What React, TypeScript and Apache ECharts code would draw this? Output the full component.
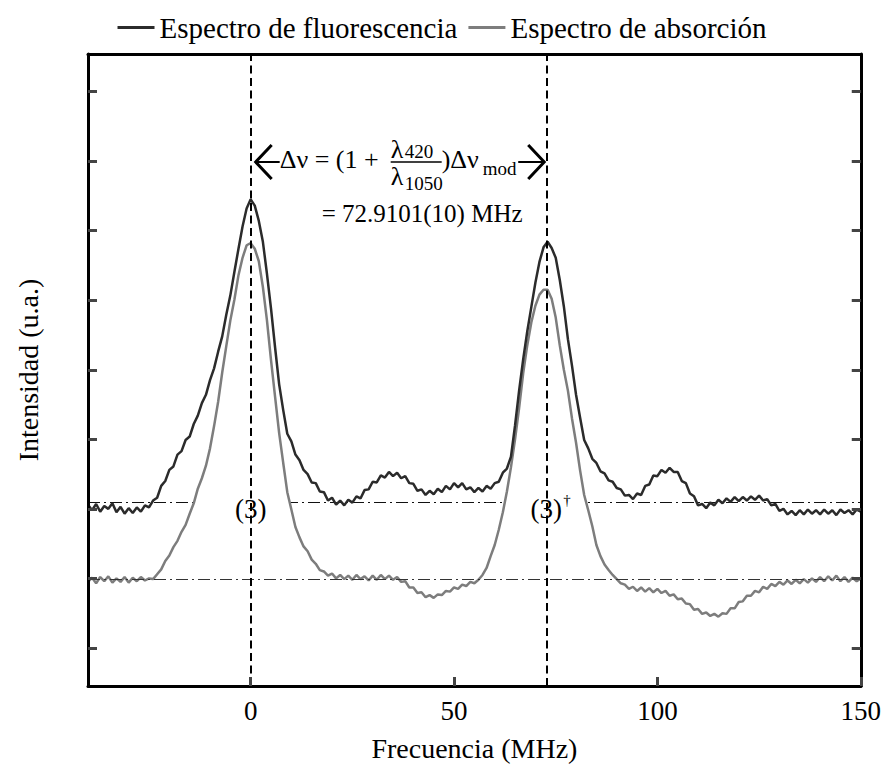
import React, { useEffect, useRef } from "react";
import * as echarts from "echarts";

// Frequency grid (MHz)
const freqMHz = [
  -40, -39, -38, -37, -36, -35, -34, -33, -32, -31,
  -30, -29, -28, -27, -26, -25, -24, -23, -22, -21,
  -20, -19, -18, -17, -16, -15, -14, -13, -12, -11,
  -10, -9, -8, -7, -6, -5, -4, -3, -2, -1,
  0, 1, 2, 3, 4, 5, 6, 7, 8, 9,
  10, 11, 12, 13, 14, 15, 16, 17, 18, 19,
  20, 21, 22, 23, 24, 25, 26, 27, 28, 29,
  30, 31, 32, 33, 34, 35, 36, 37, 38, 39,
  40, 41, 42, 43, 44, 45, 46, 47, 48, 49,
  50, 51, 52, 53, 54, 55, 56, 57, 58, 59,
  60, 61, 62, 63, 64, 65, 66, 67, 68, 69,
  70, 71, 72, 73, 74, 75, 76, 77, 78, 79,
  80, 81, 82, 83, 84, 85, 86, 87, 88, 89,
  90, 91, 92, 93, 94, 95, 96, 97, 98, 99,
  100, 101, 102, 103, 104, 105, 106, 107, 108, 109,
  110, 111, 112, 113, 114, 115, 116, 117, 118, 119,
  120, 121, 122, 123, 124, 125, 126, 127, 128, 129,
  130, 131, 132, 133, 134, 135, 136, 137, 138, 139,
  140, 141, 142, 143, 144, 145, 146, 147, 148, 149,
  150,
];

// Espectro de fluorescencia (u.a.)
const fluorescencia = [
  3.06, 2.98, 3.07, 2.96, 3.04, 3.0, 3.08, 2.95, 3.03, 2.93,
  3.01, 2.94, 3.02, 2.96, 3.05, 3.02, 3.12, 3.16, 3.33, 3.4,
  3.56, 3.61, 3.78, 3.83, 3.99, 4.04, 4.22, 4.34, 4.52, 4.64,
  4.85, 5.02, 5.26, 5.48, 5.79, 6.07, 6.41, 6.74, 7.06, 7.32,
  7.45, 7.36, 7.14, 6.84, 6.38, 5.88, 5.32, 4.79, 4.42, 4.08,
  3.97, 3.78, 3.7, 3.56, 3.5, 3.38, 3.37, 3.25, 3.24, 3.12,
  3.16, 3.06, 3.12, 3.05, 3.13, 3.09, 3.18, 3.15, 3.27, 3.28,
  3.39, 3.38, 3.48, 3.45, 3.53, 3.47, 3.52, 3.44, 3.47, 3.37,
  3.36, 3.26, 3.28, 3.2, 3.26, 3.21, 3.29, 3.24, 3.33, 3.28,
  3.37, 3.31, 3.37, 3.28, 3.31, 3.24, 3.3, 3.25, 3.33, 3.29,
  3.37, 3.39, 3.52, 3.58, 3.75, 4.2, 4.7, 5.15, 5.55, 5.9,
  6.25, 6.55, 6.76, 6.84, 6.75, 6.61, 6.29, 5.91, 5.44, 5.06,
  4.64, 4.31, 3.99, 3.87, 3.72, 3.66, 3.54, 3.51, 3.41, 3.39,
  3.3, 3.28, 3.19, 3.2, 3.14, 3.22, 3.2, 3.33, 3.35, 3.48,
  3.47, 3.56, 3.52, 3.59, 3.53, 3.53, 3.4, 3.37, 3.22, 3.18,
  3.05, 3.07, 3.01, 3.09, 3.05, 3.13, 3.08, 3.15, 3.1, 3.17,
  3.11, 3.17, 3.12, 3.18, 3.13, 3.19, 3.12, 3.14, 3.05, 3.07,
  2.97, 3.0, 2.92, 2.97, 2.91, 2.98, 2.92, 2.99, 2.93, 2.98,
  2.92, 2.99, 2.93, 2.98, 2.91, 2.99, 2.94, 2.98, 2.92, 2.99,
  2.96,
];

// Espectro de absorción (u.a.)
const absorcion = [
  1.95, 2.01, 1.93, 2.02, 1.96, 2.03, 1.94, 2.0, 1.95, 2.02,
  1.94, 2.01, 1.96, 2.02, 1.97, 2.0, 1.99, 2.06, 2.13, 2.25,
  2.33, 2.45, 2.54, 2.67, 2.77, 2.93, 3.08, 3.29, 3.44, 3.62,
  3.87, 4.19, 4.54, 4.96, 5.34, 5.71, 6.01, 6.36, 6.61, 6.79,
  6.82, 6.74, 6.56, 6.19, 5.71, 5.14, 4.61, 4.09, 3.66, 3.24,
  2.99, 2.74, 2.59, 2.46, 2.39, 2.27, 2.21, 2.12, 2.1, 2.04,
  2.07, 2.0, 2.05, 1.99, 2.04, 1.98, 2.05, 1.99, 2.03, 1.97,
  2.04, 1.98, 2.05, 1.99, 2.04, 1.98, 2.02, 1.95, 1.96, 1.87,
  1.87, 1.79, 1.8, 1.73, 1.76, 1.72, 1.77, 1.76, 1.82, 1.81,
  1.87, 1.85, 1.91, 1.89, 1.95, 1.93, 1.98, 2.05, 2.15, 2.32,
  2.48, 2.7, 2.95, 3.25, 3.6, 4.0, 4.45, 4.95, 5.35, 5.68,
  5.92, 6.08, 6.15, 6.15, 6.02, 5.75, 5.35, 5.0, 4.7, 4.3,
  3.95, 3.55, 3.2, 2.98, 2.75, 2.48, 2.32, 2.2, 2.12, 2.05,
  1.99, 1.93, 1.91, 1.85, 1.88, 1.82, 1.87, 1.81, 1.86, 1.8,
  1.85, 1.79, 1.82, 1.75, 1.77, 1.7, 1.71, 1.64, 1.63, 1.55,
  1.56, 1.49, 1.51, 1.46, 1.49, 1.45, 1.5, 1.49, 1.57, 1.57,
  1.66, 1.67, 1.75, 1.75, 1.82, 1.8, 1.88, 1.85, 1.92, 1.89,
  1.95, 1.91, 1.97, 1.92, 1.98, 1.93, 1.99, 1.94, 2.0, 1.95,
  2.02, 1.96, 2.03, 1.97, 2.04, 1.96, 2.02, 1.95, 2.01, 1.96,
  2.0,
];

const xTickValues = [0, 50, 100, 150];
const yTickValues = [1, 2, 3, 4, 5, 6, 7, 8, 9];
const peakPositions = [0, 72.9101];
const baselineFluorescencia = 3.105;
const baselineAbsorcion = 1.99;
const seriesNames = ["Espectro de fluorescencia", "Espectro de absorción"];

const FONT = "'Liberation Serif', 'Times New Roman', serif";
const BLACK_LINE = "#2b2b2b";
const GRAY_LINE = "#7d7d7d";
const X_MIN = -40;
const X_MAX = 150;
const Y_MIN = 0.453;
const Y_MAX = 9.54;

export default function App() {
  const ref = useRef<HTMLDivElement>(null);

  useEffect(() => {
    if (!ref.current) return;
    const chart = echarts.init(ref.current, null, { renderer: "svg" });

    const fluorData = freqMHz.map((f, i) => [f, fluorescencia[i]]);
    const absData = freqMHz.map((f, i) => [f, absorcion[i]]);

    const tickStyle = { color: "#444", width: 3 };
    const borderLine = { show: true, onZero: false, lineStyle: { color: "#000", width: 3 } };

    const option: any = {
      animation: false,
      grid: { left: 88, right: 19, top: 54, bottom: 83, containLabel: false },
      legend: {
        top: 8,
        left: "center",
        icon: "rect",
        itemWidth: 37,
        itemHeight: 3,
        itemGap: 11,
        selectedMode: false,
        textStyle: { fontSize: 29, fontFamily: FONT, color: "#000" },
        data: [
          { name: seriesNames[0], itemStyle: { color: BLACK_LINE } },
          { name: seriesNames[1], itemStyle: { color: GRAY_LINE } },
        ],
      },
      xAxis: [
        {
          type: "value",
          min: X_MIN,
          max: X_MAX,
          position: "bottom",
          z: 10,
          axisLine: borderLine,
          splitLine: { show: false },
          axisTick: { show: true, inside: true, length: 9, lineStyle: tickStyle, customValues: xTickValues },
          axisLabel: {
            show: true,
            customValues: xTickValues,
            fontSize: 27,
            fontFamily: FONT,
            color: "#000",
            margin: 11,
          },
          name: "Frecuencia (MHz)",
          nameLocation: "middle",
          nameGap: 48,
          nameTextStyle: { fontSize: 28, fontFamily: FONT, color: "#000" },
        },
        {
          type: "value",
          min: X_MIN,
          max: X_MAX,
          position: "top",
          z: 10,
          axisLine: borderLine,
          splitLine: { show: false },
          axisTick: { show: false },
          axisLabel: { show: false },
        },
      ],
      yAxis: [
        {
          type: "value",
          min: Y_MIN,
          max: Y_MAX,
          position: "left",
          z: 10,
          axisLine: borderLine,
          splitLine: { show: false },
          axisTick: { show: true, inside: true, length: 9, lineStyle: tickStyle, customValues: yTickValues },
          axisLabel: { show: false },
          name: "Intensidad (u.a.)",
          nameLocation: "middle",
          nameGap: 46,
          nameRotate: 90,
          nameTextStyle: { fontSize: 28, fontFamily: FONT, color: "#000" },
        },
        {
          type: "value",
          min: Y_MIN,
          max: Y_MAX,
          position: "right",
          z: 10,
          axisLine: borderLine,
          splitLine: { show: false },
          axisTick: { show: true, inside: true, length: 9, lineStyle: tickStyle, customValues: yTickValues },
          axisLabel: { show: false },
        },
      ],
      series: [
        {
          name: seriesNames[1],
          type: "line",
          data: absData,
          xAxisIndex: 0,
          yAxisIndex: 0,
          z: 2,
          color: GRAY_LINE,
          symbol: "none",
          showSymbol: false,
          lineStyle: { color: GRAY_LINE, width: 2.5 },
          areaStyle: { color: "#ffffff", opacity: 1, origin: "start" },
          markLine: {
            z: 1,
            silent: true,
            symbol: ["none", "none"],
            label: { show: false },
            data: [
              {
                yAxis: baselineFluorescencia,
                lineStyle: { color: "#111", width: 1, type: [12, 4, 2, 4] },
              },
            ],
          },
        },
        {
          name: seriesNames[0],
          type: "line",
          data: fluorData,
          xAxisIndex: 0,
          yAxisIndex: 0,
          z: 4,
          color: BLACK_LINE,
          symbol: "none",
          showSymbol: false,
          lineStyle: { color: BLACK_LINE, width: 2.5 },
          markLine: {
            z: 5,
            silent: true,
            symbol: ["none", "none"],
            label: { show: false },
            data: [
              {
                yAxis: baselineAbsorcion,
                lineStyle: { color: "#333", width: 1, type: [12, 4, 2, 4] },
              },
              ...peakPositions.map((p) => ({
                xAxis: p,
                lineStyle: { color: "#000", width: 2, type: [8, 4.5] },
              })),
            ],
          },
        },
      ],
    };

    chart.setOption(option);

    const p0 = chart.convertToPixel({ xAxisIndex: 0 }, peakPositions[0]) as number;
    const p1 = chart.convertToPixel({ xAxisIndex: 0 }, peakPositions[1]) as number;

    const txt = (text: string, x: number, y: number, size: number, align = "left") => ({
      type: "text",
      x,
      y,
      z: 20,
      silent: true,
      style: { text, fontSize: size, fontFamily: FONT, fill: "#000", align, verticalAlign: "middle" },
    });

    const arrowY = 162;
    const graphic = [
      {
        type: "polyline",
        z: 20,
        silent: true,
        shape: { points: [[p0 + 21, arrowY - 17], [p0 + 5, arrowY], [p0 + 21, arrowY + 17]] },
        style: { stroke: "#000", lineWidth: 3, fill: null },
      },
      {
        type: "line",
        z: 20,
        silent: true,
        shape: { x1: p0 + 5, y1: arrowY, x2: p0 + 29, y2: arrowY },
        style: { stroke: "#000", lineWidth: 2 },
      },
      {
        type: "polyline",
        z: 20,
        silent: true,
        shape: { points: [[p1 - 19, arrowY - 17], [p1 - 3, arrowY], [p1 - 19, arrowY + 17]] },
        style: { stroke: "#000", lineWidth: 3, fill: null },
      },
      {
        type: "line",
        z: 20,
        silent: true,
        shape: { x1: p1 - 29, y1: arrowY, x2: p1 - 3, y2: arrowY },
        style: { stroke: "#000", lineWidth: 2 },
      },
      txt("Δν = (1 + ", p0 + 29, 159, 26),
      txt("λ", p0 + 140, 149, 26),
      txt("420", p0 + 154, 151, 19),
      {
        type: "line",
        z: 20,
        silent: true,
        shape: { x1: p0 + 140, y1: arrowY, x2: p0 + 191, y2: arrowY },
        style: { stroke: "#000", lineWidth: 1.3 },
      },
      txt("λ", p0 + 140, 176, 26),
      txt("1050", p0 + 154, 183.5, 19),
      txt(")Δν", p0 + 191, 159, 26),
      txt("mod", p0 + 232, 168.5, 19),
      txt("= 72.9101(10) MHz", p0 + 71, 213.5, 25),
      txt("(3)", p0, 509, 27, "center"),
      txt("(3)", p1 - 1, 509, 27, "center"),
      txt("†", p1 + 16, 500, 15),
    ];

    chart.setOption({ graphic });

    return () => {
      chart.dispose();
    };
  }, []);

  return (
    <div
      ref={ref}
      style={{ position: "fixed", left: 0, top: 0, width: 884, height: 769, background: "#fff" }}
    />
  );
}
